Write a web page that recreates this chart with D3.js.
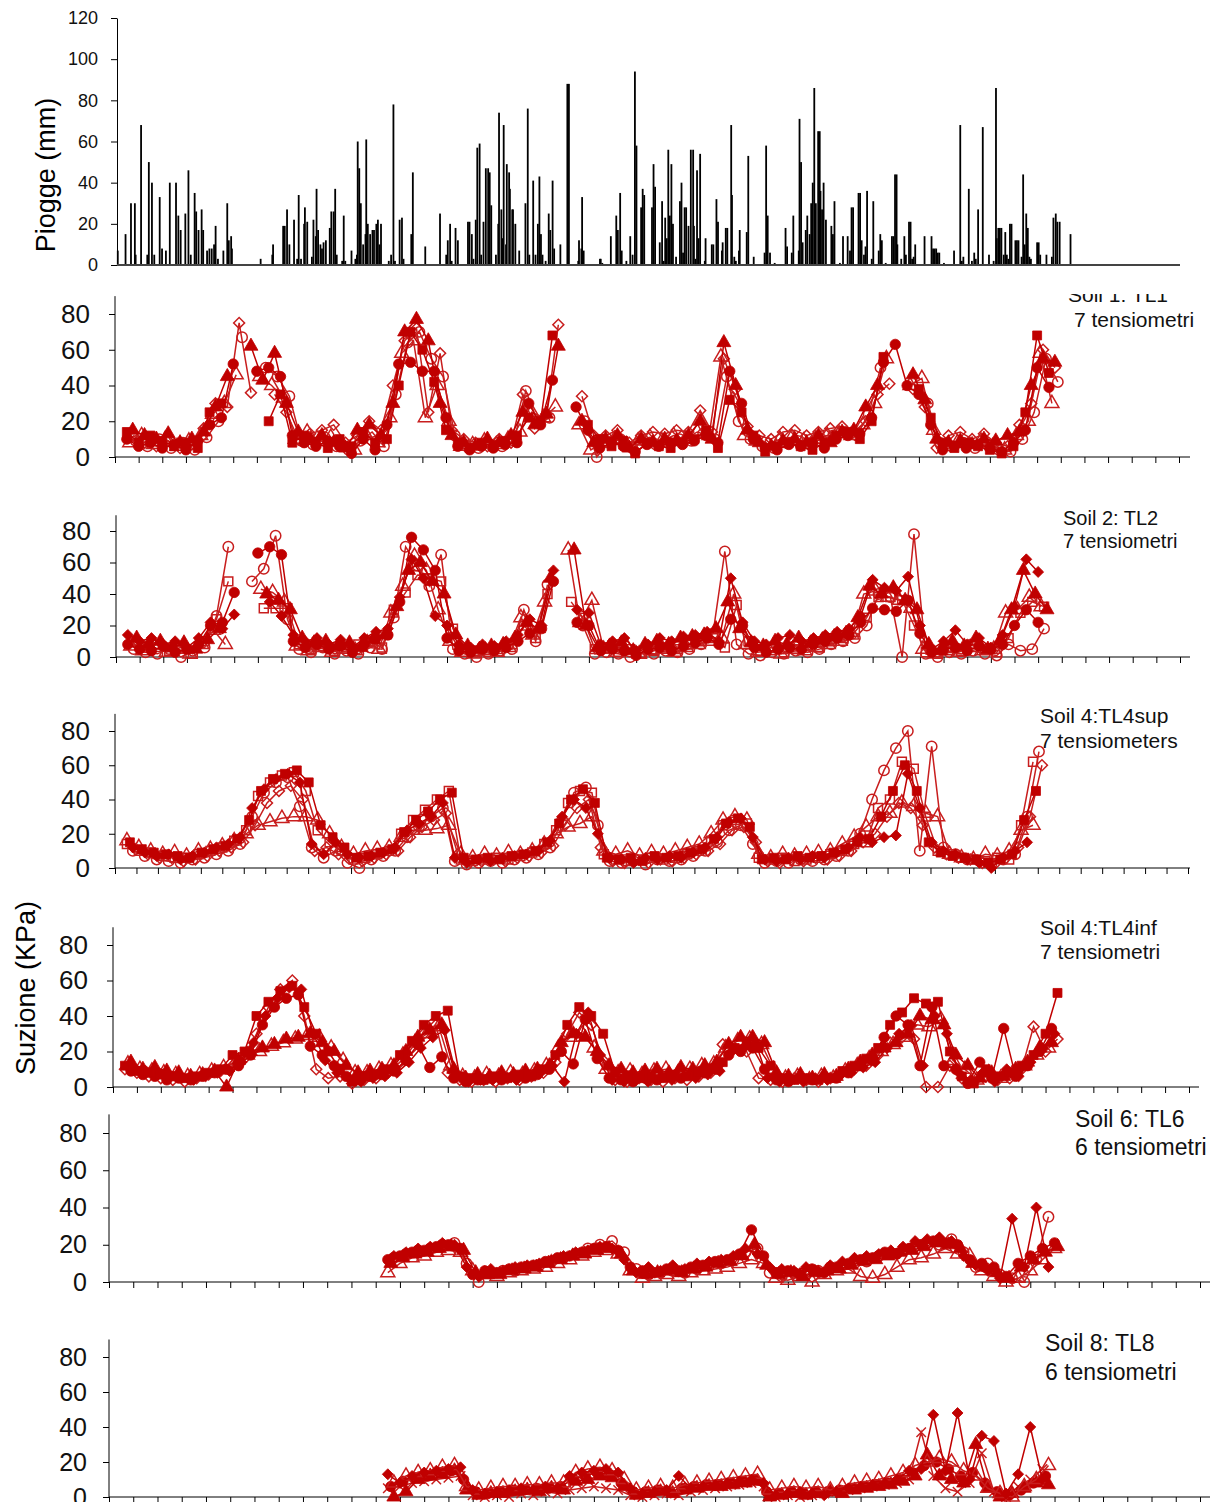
<!DOCTYPE html>
<html>
<head>
<meta charset="utf-8">
<script src="https://cdn.jsdelivr.net/npm/d3@7"></script>
<style>
  body { margin: 0; background: #fff; }
  svg { display: block; font-family: Arial, "Liberation Sans", sans-serif; }
</style>
</head>
<body>
<div id="chart"></div>
<script>
// ---- rainfall (day of record, mm) ----
var rainDay = [1,11,18,23,24,31,39,41,45,48,55,58,63,68,76,
  79,82,88,92,95,100,102,105,109,111,116,119,122,125,127,
  130,137,142,144,147,148,185,200,201,214,216,219,222,228,232,
  234,237,241,242,245,251,253,256,257,259,262,264,266,269,274,
  276,279,281,283,290,292,294,302,307,309,310,312,314,317,320,
  321,323,326,329,331,334,336,338,340,350,353,356,358,364,367,
  369,379,381,397,416,424,426,429,431,436,439,452,454,457,459,
  462,464,467,469,472,475,478,480,482,488,491,492,495,497,498,
  501,502,505,506,509,510,513,518,526,529,531,536,539,542,544,
  546,548,552,556,558,561,563,571,580,582,594,595,598,599,601,
  622,623,625,636,643,645,648,650,656,661,664,667,669,675,677,
  679,689,691,693,699,702,704,706,708,710,712,714,716,720,725,
  727,729,731,733,736,739,742,743,745,747,749,751,757,758,766,
  768,772,774,779,780,784,786,791,792,795,797,801,802,811,813,
  820,834,836,838,841,847,861,863,869,871,878,879,881,883,887,
  889,892,894,896,898,900,903,905,906,908,910,913,920,922,924,
  931,935,941,944,946,948,955,957,959,962,964,966,972,974,981,
  983,985,990,998,1000,1002,1004,1005,1010,1014,1016,1020,1022,1024,1026,
  1028,1040,1049,1051,1053,1055,1057,1059,1065,1078,1086,1088,1090,1097,1101,
  1104,1106,1109,1115,1123,1129,1132,1133,1135,1137,1139,1142,1144,1146,1148,
  1150,1152,1157,1159,1161,1165,1167,1169,1171,1173,1175,1177,1185,1187,1189,
  1197,1204,1206,1209,1211,1214,1228];
var rainMm = [7,15,30,30,5,68,5,50,40,5,33,8,7,40,40,
  24,17,25,46,5,35,26,17,27,17,7,8,8,10,19,
  3,7,30,12,14,8,3,5,10,19,19,27,10,22,3,
  34,3,20,28,21,4,22,14,37,17,10,8,11,12,18,
  26,26,37,5,2,24,2,7,3,5,60,47,30,10,15,
  61,20,15,17,17,20,22,10,20,2,5,78,2,22,23,
  3,15,45,9,25,5,12,20,2,18,12,21,21,15,3,
  22,57,59,5,21,47,47,45,29,5,20,74,27,13,68,
  10,49,45,37,27,27,20,7,30,76,5,41,5,20,43,
  15,5,2,25,17,41,8,10,88,88,2,12,8,33,7,
  3,3,1,14,24,17,35,7,2,14,5,94,58,28,37,
  34,28,49,38,11,31,2,23,13,56,24,49,20,4,31,
  40,6,28,28,19,56,56,19,3,46,13,54,2,13,10,
  10,32,21,7,11,18,18,68,34,4,2,7,17,16,53,
  4,6,58,24,6,1,18,9,6,24,7,71,50,11,17,
  24,15,30,40,86,30,65,65,36,27,40,22,19,15,31,
  1,14,14,7,28,28,35,35,12,5,9,36,3,31,7,
  15,12,1,14,14,44,44,10,3,14,5,21,21,3,4,
  10,14,14,8,8,8,6,6,1,7,68,2,4,37,2,
  6,3,27,67,5,2,86,13,18,18,18,5,16,5,3,
  20,20,12,12,12,4,44,10,25,18,4,3,11,11,5,
  5,4,23,25,21,21,15];
var rainTicks = [0, 20, 40, 60, 80, 100, 120];

// ---- suction series: one reading every half month, from the start month ----
var STEP = 0.5;
var suctionTicks = [0, 20, 40, 60, 80];

// Soil 1: TL1
var tl1Start = [0.5, 0.75, 0.75, 0.5, 0.625, 0.875];
var tl1Circle = [10,6,8,5,7,4,9,18,22,52,
  null,48,50,45,12,8,6,9,6,2,
  10,4,18,52,53,48,48,22,6,4,
  6,5,7,8,30,18,43,null,28,15,
  5,8,6,3,7,6,8,7,9,12,
  8,48,30,10,5,4,7,6,8,5,
  10,12,13,22,53,63,40,35,18,4,
  6,5,7,5,3,8,15,50,39];
var tl1Triangle = [15,12,10,13,8,10,14,28,45,null,
  62,43,58,30,14,10,12,8,5,15,
  18,12,30,70,77,65,30,12,8,6,
  10,8,12,25,18,24,62,null,20,8,
  10,12,5,10,8,10,9,12,20,10,
  64,40,15,8,6,9,10,8,12,8,
  14,15,28,40,null,null,46,32,10,8,
  9,7,10,9,12,14,40,55,53];
var tl1Diamond = [12,8,6,9,5,7,16,30,28,75,
  36,null,35,25,10,13,15,18,8,12,
  20,15,40,65,72,25,58,15,10,8,
  6,10,8,35,16,24,74,null,34,12,
  12,15,8,12,14,13,15,14,26,14,
  55,38,17,12,10,14,15,12,14,16,
  17,14,20,35,41,null,38,28,5,12,
  14,10,13,8,6,18,30,60,50];
var tl1Square = [14,8,12,9,6,8,5,25,30,null,
  null,null,20,35,8,12,8,5,10,6,
  14,8,10,40,70,60,42,15,8,5,
  8,6,9,12,22,20,68,null,null,18,
  10,6,9,2,8,6,5,8,10,15,
  5,32,25,12,3,6,8,6,4,8,
  12,14,10,20,56,null,null,38,22,8,
  5,8,6,4,2,6,25,68,47];
var tl1TriangleOpen = [8,12,7,10,6,9,12,24,30,46,
  null,45,40,33,10,14,9,11,7,4,
  12,8,22,58,65,22,40,20,6,7,
  9,7,10,14,25,22,28,null,18,4,
  8,10,7,9,11,9,12,10,14,12,
  56,32,12,9,7,10,11,9,10,12,
  13,12,18,30,55,null,40,44,15,6,
  8,7,9,6,4,12,20,58,30];
var tl1CircleOpen = [9,6,10,5,8,4,11,20,null,67,
  null,50,45,34,9,7,11,6,4,9,
  14,6,35,64,70,55,45,12,6,5,
  7,6,9,37,20,22,null,null,20,0,
  8,10,5,9,7,8,10,9,13,10,
  45,20,10,6,5,8,9,7,10,12,
  14,12,24,50,null,null,null,30,8,6,
  8,5,7,4,3,10,25,55,42];

// Soil 2: TL2
var tl2Start = [0.5, 0.75, 0.75, 0.5, 0.625, 0.875];
var tl2Circle = [8,5,4,7,3,5,8,20,22,41,
  null,66,70,65,10,6,8,5,7,3,
  8,12,14,35,76,68,55,12,4,3,
  5,4,6,10,15,18,48,null,22,20,
  4,5,4,1,5,6,4,7,9,12,
  8,24,20,6,3,5,6,5,8,
  10,12,14,22,31,30,29,36,15,3,
  5,6,4,7,5,8,20,30,22];
var tl2SquareOpen = [10,6,8,4,6,2,10,24,48,null,
  null,31,31,31,8,5,7,4,6,8,
  10,6,30,41,52,50,48,18,5,4,
  3,5,8,20,12,40,null,35,25,5,
  6,3,5,2,4,6,5,8,10,12,
  6,33,10,4,6,3,5,7,6,
  10,12,16,25,38,38,36,20,3,2,
  6,4,8,5,3,12,28,35,32];
var tl2CircleOpen = [5,3,2,5,0,4,6,26,70,null,
  48,56,77,24,5,3,6,2,4,2,
  6,5,25,70,58,45,65,5,2,0,
  2,4,5,30,10,46,null,null,20,2,
  3,2,0,3,2,4,3,5,8,15,
  67,8,2,1,3,2,4,3,5,
  8,10,12,20,40,38,0,78,2,0,
  3,2,4,2,1,8,4,5,18];
var tl2Diamond = [14,10,12,8,10,6,12,22,18,27,
  null,null,35,26,14,10,12,8,11,6,
  12,16,18,38,62,50,26,20,8,6,
  8,7,10,14,24,20,55,null,30,28,
  8,10,12,4,8,12,10,13,14,16,
  10,50,22,10,8,12,14,10,12,
  14,16,18,26,49,44,42,51,20,5,
  10,17,8,12,6,14,32,62,54];
var tl2TriangleOpen = [7,4,6,3,5,2,8,17,8,null,
  null,43,41,35,7,4,6,3,5,4,
  9,5,28,45,64,55,30,10,3,2,
  4,3,6,25,14,35,null,68,22,36,
  5,3,6,2,4,5,3,6,8,10,
  12,40,8,3,4,2,5,4,6,8,
  10,14,40,42,38,36,31,5,2,4,
  3,6,4,5,28,30,38,32];
var tl2Triangle = [12,8,10,6,9,5,11,18,null,null,
  null,40,36,30,12,9,10,7,9,6,
  11,14,32,55,60,48,40,14,7,5,
  7,8,12,22,18,50,null,68,20,6,
  7,9,4,8,10,8,12,13,14,18,
  35,18,9,7,10,8,12,9,11,13,
  15,25,45,40,44,36,30,8,4,10,
  7,12,5,10,30,55,40,30];

// Soil 4: TL4sup
var tl4sStart = [0.5, 0.75, 0.5, 0.75, 0.625, 0.875];
var tl4sSquareOpen = [14,10,9,7,6,6,8,10,12,16,
  22,42,50,54,56,45,22,15,10,5,
  6,8,10,20,28,34,40,45,5,4,
  5,6,5,7,9,14,22,38,45,44,
  8,5,4,5,6,5,6,8,10,16,
  25,28,26,6,5,6,4,5,6,8,
  10,14,15,35,40,62,58,30,10,8,
  6,5,4,6,5,25,62];
var tl4sDiamond = [12,9,7,8,5,7,9,12,14,18,
  35,46,52,55,50,14,8,15,8,6,
  7,9,12,22,26,30,38,6,3,5,
  4,6,7,8,10,16,30,40,35,20,
  6,5,3,6,5,7,6,9,12,18,
  27,29,18,5,4,6,5,7,6,9,
  12,18,15,18,19,55,35,15,10,8,
  5,3,0,6,10,15];
var tl4sTriangleOpen = [16,12,10,8,9,7,10,11,13,16,
  20,25,27,29,30,30,28,20,12,8,
  10,11,12,18,22,22,23,25,8,6,
  8,7,9,8,10,14,20,24,26,30,
  10,8,10,7,9,8,10,12,14,20,
  28,30,28,8,6,8,7,8,9,10,
  14,18,24,30,32,38,36,32,30,8,
  6,5,8,7,10,22,25];
var tl4sCircleOpen = [10,7,5,4,3,5,6,8,10,14,
  30,44,50,53,36,12,6,10,3,0,
  5,7,10,18,24,30,35,4,2,3,
  4,3,5,6,8,12,28,44,47,25,
  4,3,4,2,5,4,5,7,10,15,
  22,25,14,3,4,3,5,4,5,7,
  10,20,40,57,70,80,10,71,12,8,
  5,4,2,5,8,30,68];
var tl4sSquare = [15,11,9,8,7,6,9,11,13,17,
  28,45,52,55,57,50,25,18,12,6,
  7,9,11,21,28,33,40,44,6,5,
  6,5,7,8,10,15,26,40,46,38,
  6,5,6,4,7,6,7,9,11,17,
  26,29,24,5,6,5,7,6,7,9,
  11,15,17,30,45,60,45,15,9,7,
  6,5,3,5,8,28,45];
var tl4sDiamondOpen = [11,8,6,6,4,5,7,10,12,15,
  25,38,45,48,40,10,12,8,6,4,
  6,8,10,18,24,28,32,8,4,4,
  5,4,6,7,9,13,25,35,40,12,
  4,3,5,3,5,4,6,8,10,14,
  22,24,15,4,3,5,4,6,5,7,
  10,15,20,30,38,35,25,12,8,6,
  5,3,2,6,12,30,60];

// Soil 4: TL4inf
var tl4iStart = [0.5, 0.75, 0.5, 0.75, 0.625, 0.875];
var tl4iSquare = [12,9,8,7,6,5,6,8,10,18,
  20,40,48,54,57,45,30,20,10,3,
  6,7,10,18,26,35,40,43,6,5,
  4,6,5,7,6,10,18,35,45,40,
  30,8,6,5,6,5,7,6,8,10,
  14,22,25,22,12,5,4,5,4,5,
  9,12,16,22,35,42,50,47,48,20,
  6,2,10,6,8,12,18,30,53];
var tl4iTriangle = [14,10,11,9,8,6,7,9,0,15,
  20,22,24,27,28,30,25,20,12,8,
  9,10,12,20,28,32,35,10,5,7,
  6,8,7,9,10,12,25,30,28,20,
  12,10,8,9,10,8,11,10,12,14,
  24,28,28,25,8,6,7,5,7,6,
  10,14,18,22,25,30,40,38,35,18,
  12,5,8,6,10,14,22,25];
var tl4iDiamondOpen = [10,8,6,5,4,3,5,7,9,12,
  16,30,45,55,60,40,10,5,6,2,
  4,5,8,14,22,30,35,8,4,3,
  4,3,5,4,6,8,14,30,42,35,
  15,4,3,5,4,3,5,4,6,8,
  24,22,20,5,4,3,5,4,3,5,
  8,10,12,18,25,28,27,0,0,12,
  5,3,6,4,5,10,34,20,27];
var tl4iCircle = [9,7,6,4,5,4,6,8,10,12,
  18,35,45,50,52,23,18,12,6,4,
  6,7,9,15,24,11,17,5,3,4,
  5,4,6,5,7,10,20,13,38,16,
  5,4,3,5,4,6,5,7,8,10,
  18,20,22,10,4,3,5,4,6,5,
  8,12,15,28,40,35,12,45,12,10,
  2,14,5,33,6,12,20,33];
var tl4iTriangleOpen = [13,10,9,8,7,6,7,9,11,14,
  18,20,23,25,27,29,28,22,15,8,
  8,10,12,18,25,30,34,12,6,5,
  7,6,8,7,9,12,22,28,30,22,
  10,8,9,7,9,10,8,10,12,13,
  22,26,27,24,10,5,6,4,6,5,
  9,12,16,20,24,28,35,34,38,15,
  10,4,8,5,8,12,18,22];
var tl4iDiamond = [11,9,7,6,5,4,6,8,9,14,
  25,40,50,56,55,30,15,8,5,3,
  5,6,8,14,22,28,32,6,3,4,
  4,5,4,6,8,12,3,30,42,18,
  4,3,4,3,5,4,6,5,7,9,
  20,22,25,5,3,4,3,5,4,6,
  8,11,14,22,30,35,12,40,30,8,
  4,8,3,10,6,14,22,30];

// Soil 6: TL6
var tl6Start = [11.5, 11.75, 11.5, 11.75, 11.625];
var tl6Circle = [12,14,16,17,19,20,18,4,6,5,
  7,8,9,11,13,14,16,18,19,17,
  8,6,5,7,6,8,9,11,12,15,
  28,14,5,6,4,7,5,8,10,12,
  13,16,15,18,20,22,21,20,12,10,
  8,3,10,14,18,21];
var tl6Diamond = [14,16,18,19,21,20,8,3,7,6,
  8,9,10,12,14,16,17,19,18,12,
  5,8,6,9,7,10,11,12,14,18,
  15,8,7,6,8,6,9,11,13,14,
  15,17,19,22,23,24,22,14,9,6,
  2,34,8,40,8];
var tl6TriangleOpen = [5,10,13,14,16,17,16,6,4,3,
  5,6,7,8,10,12,14,16,17,15,
  6,2,3,4,3,5,6,7,8,10,
  12,10,2,1,3,0,4,6,7,3,
  2,4,8,12,13,15,18,15,14,6,
  3,0,2,6,12,18];
var tl6CircleOpen = [13,15,17,18,20,21,10,0,5,6,
  6,8,9,11,13,15,18,20,22,16,
  7,4,5,6,5,7,9,10,12,16,
  18,5,3,5,4,6,8,9,10,11,
  14,15,17,19,21,20,23,16,8,10,
  4,2,0,12,35];
var tl6Triangle = [10,13,15,16,18,19,17,5,4,4,
  6,7,8,10,12,14,15,17,18,15,
  6,4,5,6,5,7,8,10,11,14,
  20,9,4,5,3,5,6,7,9,11,
  12,14,16,17,19,21,20,18,10,8,
  5,2,8,12,16,19];

// Soil 8: TL8
var tl8Start = [11.5, 11.75, 11.5, 11.75, 11.625];
var tl8Diamond = [13,8,12,14,15,16,17,4,2,3,
  4,5,4,6,5,12,14,15,16,14,
  5,2,3,4,12,5,6,7,8,9,
  10,8,1,2,3,2,1,3,5,6,
  7,8,10,15,16,47,15,48,10,35,
  32,2,13,40,10];
var tl8TriangleOpen = [8,12,14,15,17,18,6,4,5,6,
  6,7,7,8,8,14,16,17,15,10,
  4,5,6,5,7,8,9,10,11,12,
  13,4,5,6,5,6,4,6,8,9,
  10,12,14,18,20,22,20,15,12,5,
  2,0,6,10,18];
var tl8Cross = [5,6,8,9,10,11,12,1,0,1,
  0,2,1,3,2,4,5,6,5,4,
  1,0,1,2,1,3,4,5,6,7,
  8,6,0,1,0,1,2,3,4,5,
  6,7,8,10,37,12,5,3,8,25,
  3,0,6,10,16];
var tl8Triangle = [0,3,10,12,13,15,4,1,2,2,
  3,4,3,5,4,9,10,12,11,6,
  1,2,3,2,4,5,6,6,7,8,
  9,0,1,2,1,2,3,2,4,5,
  6,7,9,12,24,12,10,8,30,5,
  0,2,5,8,7];
var tl8Circle = [6,9,11,12,14,15,10,3,2,3,
  4,4,5,5,6,10,12,14,13,8,
  3,3,4,3,5,6,7,7,8,9,
  10,3,2,3,2,3,3,4,5,6,
  7,8,10,14,18,20,16,12,14,8,
  3,1,4,8,12];

// ---- drawing ----
var red = "#c00000", openRed = "#c81e1e";
var svg = d3.select("#chart").append("svg")
    .attr("width", 1227)
    .attr("height", 1502);

svg.append("rect").attr("width", 1227).attr("height", 1502).attr("fill", "#fff");

/**
 * rainfall panel
 */
var xr = d3.scaleLinear().domain([0, 1369]).range([117, 1180]);
var yr = d3.scaleLinear().domain([0, 120]).range([265, 18]);

svg.append("g")
    .selectAll("rect")
    .data(rainDay.map(function(d, i) { return { day: d, mm: rainMm[i] }; }))
    .join("rect")
    .attr("x", function(d) { return xr(d.day) - 0.9; })
    .attr("width", 1.8)
    .attr("y", function(d) { return yr(d.mm); })
    .attr("height", function(d) { return yr(0) - yr(d.mm); })
    .attr("fill", "#000");

var rainAxis = svg.append("g")
    .attr("transform", "translate(117,0)")
    .call(d3.axisLeft(yr).tickValues(rainTicks).tickSize(6).tickSizeOuter(0).tickPadding(13));
rainAxis.selectAll("text").style("font-size", "18px").attr("fill", "#111");

svg.append("line")
    .attr("x1", 117).attr("x2", 1180)
    .attr("y1", yr(0)).attr("y2", yr(0))
    .attr("stroke", "#444").attr("stroke-width", 2);

svg.append("text")
    .attr("transform", "translate(55,175) rotate(-90)")
    .attr("text-anchor", "middle")
    .style("font-size", "27px")
    .text("Piogge (mm)");

svg.append("text")
    .attr("transform", "translate(35,988) rotate(-90)")
    .attr("text-anchor", "middle")
    .style("font-size", "27px")
    .text("Suzione (KPa)");

/**
 * suction panels
 */
function ser(values, start, shape, filled) {
    return { values: values, start: start, shape: shape, filled: filled };
}

var panels = [
    { left: 115, right: 1179, end: 1190, y0: 457, y80: 314, ticks: d3.range(46), fs: 26, pad: 19,
      title: ["Soil 1: TL1", "7 tensiometri"], tx: [1068, 1074], ty: [302, 327], tfs: 21, clip: 294,
      series: [ser(tl1Diamond, tl1Start[2], "diamond", false), ser(tl1TriangleOpen, tl1Start[4], "triangle", false),
               ser(tl1CircleOpen, tl1Start[5], "circle", false), ser(tl1Square, tl1Start[3], "square", true),
               ser(tl1Triangle, tl1Start[1], "triangle", true), ser(tl1Circle, tl1Start[0], "circle", true)] },
    { left: 116, right: 1180, end: 1190, y0: 657, y80: 531, ticks: d3.range(46), fs: 26, pad: 19,
      title: ["Soil 2: TL2", "7 tensiometri"], tx: [1063, 1063], ty: [525, 548], tfs: 20,
      series: [ser(tl2SquareOpen, tl2Start[1], "square", false), ser(tl2CircleOpen, tl2Start[2], "circle", false),
               ser(tl2TriangleOpen, tl2Start[4], "triangle", false), ser(tl2Triangle, tl2Start[5], "triangle", true),
               ser(tl2Diamond, tl2Start[3], "diamond", true), ser(tl2Circle, tl2Start[0], "circle", true)] },
    { left: 115, right: 1188, end: 1190, y0: 868, y80: 731, ticks: d3.range(51).map(function(i) { return i * 0.9; }), fs: 26, pad: 19,
      title: ["Soil 4:TL4sup", "7 tensiometers"], tx: [1040, 1040], ty: [723, 748], tfs: 21,
      series: [ser(tl4sTriangleOpen, tl4sStart[2], "triangle", false), ser(tl4sCircleOpen, tl4sStart[3], "circle", false),
               ser(tl4sSquareOpen, tl4sStart[0], "square", false), ser(tl4sDiamondOpen, tl4sStart[5], "diamond", false),
               ser(tl4sSquare, tl4sStart[4], "square", true), ser(tl4sDiamond, tl4sStart[1], "diamond", true)] },
    { left: 113, right: 1189, end: 1199, y0: 1087, y80: 945, ticks: d3.range(46), fs: 26, pad: 19,
      title: ["Soil 4:TL4inf", "7 tensiometri"], tx: [1040, 1040], ty: [935, 959], tfs: 21,
      series: [ser(tl4iDiamondOpen, tl4iStart[2], "diamond", false), ser(tl4iTriangleOpen, tl4iStart[4], "triangle", false),
               ser(tl4iTriangle, tl4iStart[1], "triangle", true), ser(tl4iDiamond, tl4iStart[5], "diamond", true),
               ser(tl4iCircle, tl4iStart[3], "circle", true), ser(tl4iSquare, tl4iStart[0], "square", true)] },
    { left: 109, right: 1200, end: 1210, y0: 1282, y80: 1133, ticks: d3.range(46), fs: 25, pad: 16,
      title: ["Soil 6: TL6", "6 tensiometri"], tx: [1075, 1075], ty: [1127, 1155], tfs: 23,
      series: [ser(tl6TriangleOpen, tl6Start[2], "triangle", false), ser(tl6CircleOpen, tl6Start[3], "circle", false),
               ser(tl6Triangle, tl6Start[4], "triangle", true),
               ser(tl6Circle, tl6Start[0], "circle", true), ser(tl6Diamond, tl6Start[1], "diamond", true)] },
    { left: 109, right: 1200, end: 1210, y0: 1497, y80: 1357, ticks: d3.range(46), fs: 25, pad: 16,
      title: ["Soil 8: TL8", "6 tensiometri"], tx: [1045, 1045], ty: [1351, 1380], tfs: 23,
      series: [ser(tl8Cross, tl8Start[2], "cross", false), ser(tl8Circle, tl8Start[4], "circle", true),
               ser(tl8Triangle, tl8Start[3], "triangle", true),
               ser(tl8TriangleOpen, tl8Start[1], "triangle", false), ser(tl8Diamond, tl8Start[0], "diamond", true)] }
];

var symbolTypes = {
    circle: [d3.symbolCircle, 85],
    triangle: [d3.symbolTriangle, 85],
    square: [d3.symbolSquare, 80],
    diamond: [d3.symbolSquare, 60],
    cross: [d3.symbolX || d3.symbolTimes || d3.symbolCross, 60]
};

panels.forEach(function(p, pi) {
    var x = d3.scaleLinear().domain([0, 45]).range([p.left, p.right]);
    var y = d3.scaleLinear().domain([0, 80]).range([p.y0, p.y80]);
    var g = svg.append("g");

    // x axis
    g.append("g")
        .attr("transform", "translate(0," + p.y0 + ")")
        .call(d3.axisBottom(x).tickValues(p.ticks).tickFormat("").tickSize(6).tickSizeOuter(0))
        .call(function(a) { a.select(".domain").remove(); });
    g.append("line")
        .attr("x1", p.left).attr("x2", p.end)
        .attr("y1", p.y0).attr("y2", p.y0)
        .attr("stroke", "#000");

    // y axis, running up to 90
    var yAxis = g.append("g")
        .attr("transform", "translate(" + p.left + ",0)")
        .call(d3.axisLeft(y).tickValues(suctionTicks).tickSize(6).tickSizeOuter(0).tickPadding(p.pad))
        .call(function(a) { a.select(".domain").remove(); });
    yAxis.selectAll("text").style("font-size", p.fs + "px").attr("fill", "#111");
    g.append("line")
        .attr("x1", p.left).attr("x2", p.left)
        .attr("y1", p.y0).attr("y2", y(90))
        .attr("stroke", "#000");

    // series
    var line = d3.line()
        .defined(function(d) { return d.v != null; })
        .x(function(d) { return x(d.t); })
        .y(function(d) { return y(d.v); });

    p.series.forEach(function(s) {
        var pts = s.values.map(function(v, i) { return { t: s.start + i * STEP, v: v }; });
        var col = s.filled ? red : openRed;
        g.append("path")
            .datum(pts)
            .attr("d", line)
            .attr("fill", "none")
            .attr("stroke", col)
            .attr("stroke-width", 1.5);
        var st = symbolTypes[s.shape];
        var sym = d3.symbol().type(st[0]).size(st[1])();
        g.append("g")
            .selectAll("path")
            .data(pts.filter(function(d) { return d.v != null; }))
            .join("path")
            .attr("d", sym)
            .attr("transform", function(d) {
                return "translate(" + x(d.t) + "," + y(d.v) + ")" + (s.shape === "diamond" ? " rotate(45)" : "");
            })
            .attr("fill", (s.filled && s.shape !== "cross") ? red : "none")
            .attr("stroke", col)
            .attr("stroke-width", s.filled ? 0.8 : 1.5);
    });

    // title
    var tg = g.append("g");
    if (p.clip) {
        svg.append("clipPath").attr("id", "clip" + pi)
            .append("rect").attr("x", 0).attr("y", p.clip).attr("width", 1227).attr("height", 200);
        tg.attr("clip-path", "url(#clip" + pi + ")");
    }
    p.title.forEach(function(t, i) {
        tg.append("text")
            .attr("x", p.tx[i])
            .attr("y", p.ty[i])
            .style("font-size", p.tfs + "px")
            .attr("fill", "#111")
            .text(t);
    });
});
</script>
</body>
</html>
